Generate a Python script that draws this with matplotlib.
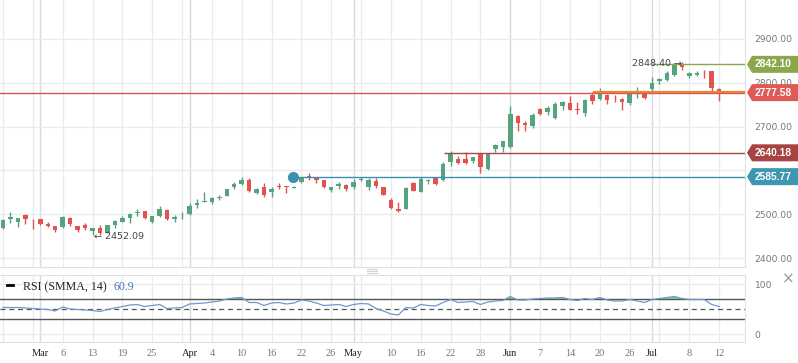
import matplotlib
matplotlib.use('Agg')
import matplotlib.pyplot as plt
from matplotlib.patches import Polygon
from matplotlib.lines import Line2D
from matplotlib.transforms import blended_transform_factory
import numpy as np

# daily candles
opens = [2468, 2490, 2483, 2498, 2490, 2488, 2478, 2472, 2470, 2491,
         2473, 2475, 2461, 2468, 2458, 2476, 2483, 2491, 2503, 2507,
         2482, 2496, 2510, 2488, 2495, 2500, 2522, 2529, 2529, 2536,
         2542, 2563, 2569, 2578, 2549, 2561, 2551, 2565, 2565, 2560,
         2574, 2587, 2584, 2577, 2555, 2564, 2567, 2561, 2579, 2561,
         2576, 2561, 2532, 2512, 2513, 2572, 2551, 2575, 2582, 2578,
         2620, 2626, 2626, 2622, 2637, 2603, 2649, 2653, 2653, 2724,
         2709, 2701, 2740, 2734, 2720, 2746, 2755, 2740, 2730, 2772,
         2763, 2772, 2764, 2763, 2753, 2779, 2776, 2785, 2803, 2806,
         2818, 2842, 2816, 2818, 2821, 2827, 2785]
highs = [2489, 2506, 2492, 2501, 2490, 2490, 2482, 2474, 2495, 2494,
         2474, 2480, 2469, 2475, 2476, 2486, 2495, 2503, 2512, 2508,
         2497, 2518, 2512, 2498, 2504, 2526, 2534, 2551, 2540, 2545,
         2558, 2574, 2585, 2582, 2559, 2571, 2563, 2571, 2565, 2564,
         2585, 2594, 2585, 2579, 2563, 2573, 2568, 2580, 2584, 2582,
         2582, 2562, 2536, 2529, 2562, 2574, 2584, 2580, 2585, 2620,
         2644, 2633, 2641, 2631, 2639, 2639, 2661, 2667, 2746, 2726,
         2713, 2730, 2743, 2747, 2756, 2759, 2770, 2757, 2762, 2780,
         2789, 2775, 2772, 2765, 2776, 2791, 2778, 2814, 2811, 2827,
         2846, 2848.40, 2824, 2827, 2829, 2828, 2789]
lows = [2466, 2481, 2471, 2478, 2467, 2475, 2470, 2460, 2469, 2474,
        2459, 2463, 2453, 2452.09, 2456, 2469, 2482, 2481, 2497, 2489,
        2479, 2494, 2487, 2483, 2488, 2499, 2515, 2529, 2524, 2533,
        2541, 2558, 2567, 2551, 2546, 2540, 2540, 2558, 2548, 2559,
        2572, 2578, 2571, 2559, 2550, 2557, 2553, 2558, 2576, 2555,
        2560, 2543, 2512, 2505, 2511, 2552, 2551, 2570, 2567, 2575,
        2611, 2614, 2614, 2617, 2595, 2601, 2641, 2641, 2652, 2690,
        2690, 2697, 2726, 2726, 2717, 2739, 2738, 2729, 2725, 2751,
        2761, 2751, 2756, 2738, 2750, 2766, 2762, 2780, 2797, 2803,
        2815, 2830, 2810, 2815, 2810, 2780, 2758]
closes = [2487, 2493, 2491, 2489, 2488, 2477, 2473, 2465, 2493, 2477,
          2465, 2468, 2468, 2458, 2475, 2484, 2492, 2501, 2505, 2492,
          2496, 2511, 2488, 2493, 2497, 2519, 2526, 2531, 2536, 2540,
          2557, 2569, 2578, 2552, 2557, 2544, 2557, 2563, 2561, 2562,
          2583, 2584, 2579, 2561, 2561, 2569, 2557, 2574, 2581, 2578,
          2565, 2544, 2515, 2508, 2559, 2554, 2580, 2577, 2569, 2615,
          2637, 2617, 2617, 2630, 2608, 2637, 2658, 2666, 2729, 2708,
          2703, 2726, 2729, 2743, 2752, 2757, 2738, 2737, 2761, 2759,
          2778, 2761, 2762, 2757, 2774, 2781, 2765, 2800, 2809, 2823,
          2841, 2835, 2823, 2822, 2819, 2789, 2777.58]
rsi = [53, 53, 53, 52, 51, 50, 49, 46, 54, 50,
       49, 48, 47, 45, 49, 52, 55, 58, 59, 55,
       57, 59, 51, 52, 53, 60, 61, 62, 64, 66,
       70, 72, 73, 63, 63, 57, 62, 63, 60, 62,
       68, 66, 62, 57, 58, 59, 55, 59, 61, 60,
       51, 46, 40, 38, 53, 52, 59, 57, 56, 63,
       69, 63, 64, 65, 59, 64, 66, 67, 75, 68,
       68, 70, 71, 72, 72, 73, 69, 67, 71, 69,
       73, 68, 66, 66, 69, 66, 63, 69, 71, 73,
       75, 71, 69, 69, 69, 59, 55]

week_idx = list(range(0, 97, 4))
month_idx = [5, 25, 47, 68, 87]
label_idx = [5, 8, 12, 16, 20, 25, 28, 32, 36, 40, 44, 47, 52, 56, 60, 64,
             68, 72, 76, 80, 84, 87, 92, 96]
label_txt = ['Mar', '6', '13', '19', '25', 'Apr', '4', '10', '16', '22', '26',
             'May', '10', '16', '22', '28', 'Jun', '7', '14', '20', '26',
             'Jul', '8', '12']
months = ['Mar', 'Apr', 'May', 'Jun', 'Jul']
price_ticks = [2400, 2500, 2600, 2700, 2800, 2900]
price_labels = ['2400.00', '2500.00', '', '2700.00', '2800.00', '2900.00']

levels = [2842.10, 2777.58, 2640.18, 2585.77]
level_cols = ['#8aa84b', '#e05a55', '#a84343', '#3f96b0']

green = '#55a47f'
red = '#e2534f'
grid = '#e9ecef'

W, H = 798, 363
fig = plt.figure(figsize=(W/100, H/100), dpi=100)
ax = fig.add_axes([0, 1-267/H, 745/W, 267/H])
ax2 = fig.add_axes([0, 1-342/H, 745/W, 67/H])

x = np.arange(len(closes))
o = np.array(opens); c = np.array(closes)
hi = np.array(highs); lo = np.array(lows)
cols = np.where(c >= o, green, red)
xl = (-3/7.46, 742/7.46)

for a in (ax, ax2):
    a.set_xlim(*xl)
    for i in week_idx:
        a.axvline(i, color=grid, lw=1, zorder=0)
    for i in month_idx:
        a.axvline(i, color='#d6d9dd', lw=1, zorder=0)
    a.spines['top'].set_visible(False)
    a.spines['left'].set_visible(False)
    a.spines['right'].set_color('#dde1e6')
    a.spines['bottom'].set_color('#dde1e6')
    a.yaxis.tick_right()

# candles
ax.vlines(x, lo, hi, color=cols, lw=1, zorder=3)
ax.bar(x, np.maximum(abs(c-o), 1.8), bottom=np.minimum(o, c), width=0.6,
       color=cols, linewidth=0, zorder=4)

ax.set_ylim(2379.5, 2989)
ax.set_yticks(price_ticks)
ax.set_yticklabels(price_labels)
ax.grid(axis='y', color=grid, lw=1, zorder=0)
ax.set_axisbelow(True)
ax.tick_params(axis='y', length=0, pad=7, labelsize=6.6, labelcolor='#777')
ax.set_xticks([])

# price levels
ax.axhline(2777.58, color='#d9534f', lw=1, zorder=5)
ax.hlines(2778.6, 79.1, xl[1], color='#e8833a', lw=1.6, zorder=6)
ax.hlines(2842.10, 87, xl[1], color='#8aa84b', lw=1, zorder=5)
ax.hlines(2640.18, 59.1, xl[1], color='#a94442', lw=1, zorder=5)
ax.hlines(2585.77, 38.9, xl[1], color='#3d8fb0', lw=1, zorder=5)
ax.plot(38.9, 2585.77, 'o', ms=7, color='#3d8fb0', zorder=6)

tr = blended_transform_factory(ax.transAxes, ax.transData)
h = 8.5 * 2.283
for lv, col in zip(levels, level_cols):
    px = [747, 752, 798, 798, 752]
    py = [lv, lv+h, lv+h, lv-h, lv-h]
    ax.add_patch(Polygon(list(zip([p/745 for p in px], py)), closed=True,
                         facecolor=col, edgecolor='none', transform=tr,
                         clip_on=False, zorder=10))
    ax.text(773/745, lv, '%.2f' % lv, transform=tr, ha='center', va='center',
            color='white', fontsize=7.4, fontweight='bold', zorder=11,
            clip_on=False, family='Liberation Sans')

ax.text(91.0, 2845, '2848.40 \u2192', ha='right', va='center', fontsize=6.8,
        color='#444', zorder=8)
ax.text(12.2, 2448, '\u2190 2452.09', ha='left', va='center', fontsize=6.8,
        color='#444', zorder=8)

# RSI panel
r = np.array(rsi, dtype=float)
ax2.set_ylim(-16, 118)
ax2.axhline(100, color=grid, lw=1, zorder=0)
ax2.axhline(0, color=grid, lw=1, zorder=0)
ax2.fill_between(x, r, 70, where=r > 70, interpolate=True, color='#86d886',
                 lw=0, zorder=2)
ax2.axhline(70, color='#555', lw=1, zorder=3)
ax2.axhline(30, color='#555', lw=1, zorder=3)
ax2.axhline(50, color='#555', lw=0.9, ls=(0, (4, 3)), zorder=3)
ax2.plot(x, r, color='#7098cc', lw=0.9, zorder=4)
ax2.spines['top'].set_visible(True)
ax2.spines['top'].set_color('#dde1e6')
ax2.set_yticks([0, 100])
ax2.tick_params(axis='y', length=0, pad=7, labelsize=6.6, labelcolor='#777')
ax2.set_xticks(label_idx)
ax2.set_xticklabels(label_txt, family='Liberation Serif', fontsize=7.5)
ax2.tick_params(axis='x', length=0, pad=5)
for t in ax2.get_xticklabels():
    t.set_color('#222' if t.get_text() in months else '#777')

fig.text(23/W, 1-287/H, 'RSI (SMMA, 14)', family='Liberation Serif',
         fontsize=8.6, color='#222', va='center')
fig.text(113/W, 1-287/H, '60.9', family='Liberation Serif', fontsize=8.6,
         color='#4a78b8', va='center')
fig.add_artist(Line2D([7/W, 13/W], [1-285/H, 1-285/H], color='black', lw=2))
fig.text(788/W, 1-279/H, '\u00d7', fontsize=11, color='#999', ha='center',
         va='center')
for yy in (269, 271, 273):
    fig.add_artist(Line2D([367/W, 377/W], [1-yy/H, 1-yy/H], color='#cfd3d8',
                          lw=0.8))

fig.savefig('out.png', dpi=100)
